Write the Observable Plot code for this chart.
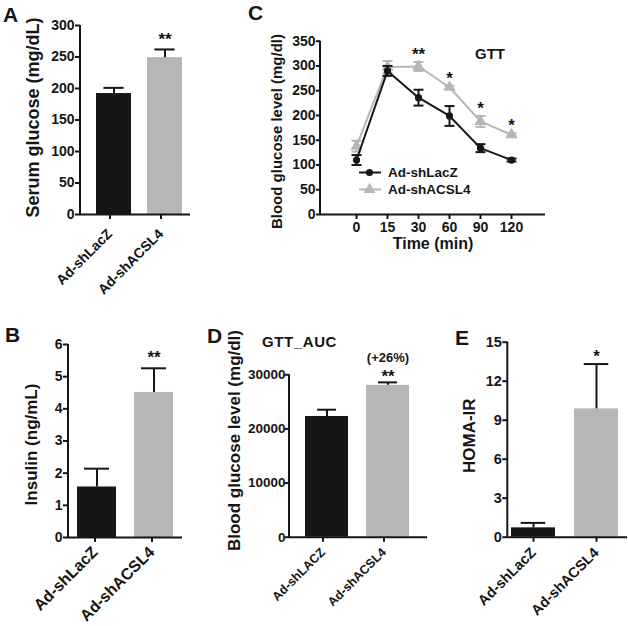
<!DOCTYPE html>
<html><head><meta charset="utf-8">
<script src="https://cdn.jsdelivr.net/npm/d3@7"></script>
<script src="https://cdn.jsdelivr.net/npm/@observablehq/plot@0.6"></script>
<style>
body{margin:0;background:#fff;}
#root{position:relative;width:628px;height:626px;overflow:hidden;background:#fff;}
#root svg{position:absolute;left:0;top:0;}
</style></head><body><div id="root"></div>
<script>
// ---------------- data ----------------
const groups = ["Ad-shLacZ", "Ad-shACSL4"];
const groupsD = ["Ad-shLACZ", "Ad-shACSL4"];
const serumMean = [192, 249];
const serumErr = [9, 13];
const serumSig = ["", "**"];
const insulinMean = [1.57, 4.51];
const insulinErr = [0.57, 0.75];
const insulinSig = ["", "**"];
const aucMean = [22300, 28050];
const aucErr = [1250, 550];
const aucSig = ["", "**"];
const aucNote = ["", "(+26%)"];
const homaMean = [0.72, 9.87];
const homaErr = [0.38, 3.45];
const homaSig = ["", "*"];
const times = [0, 15, 30, 60, 90, 120];
const laczGTT = [110, 290, 236, 199, 134, 110];
const laczGTTErr = [10, 10, 16, 20, 8, 3];
const acslGTT = [138, 298, 299, 257, 188, 161];
const acslGTTErr = [11, 12, 9, 3, 11, 3];
const gttSig = ["", "", "**", "*", "*", "*"];
const ticksA = [0, 50, 100, 150, 200, 250, 300];
const ticksB = [0, 1, 2, 3, 4, 5, 6];
const ticksC = [0, 50, 100, 150, 200, 250, 300, 350];
const ticksD = [0, 10000, 20000, 30000];
const ticksE = [0, 3, 6, 9, 12, 15];

// ---------------- style ----------------
const W = 628, H = 626;
const FONT = '"Liberation Sans", Arial, Helvetica, sans-serif';
const INK = "#151515", BLACK = "#161616", GRAY = "#b6b6b6";
const root = document.getElementById("root");
const STYLE = {background: "transparent", fontFamily: FONT, fontWeight: "bold", color: INK, overflow: "visible"};

function yLine(index, scales, values, d) {
  const l = document.createElementNS("http://www.w3.org/2000/svg", "line");
  l.setAttribute("x1", d.marginLeft); l.setAttribute("x2", d.marginLeft);
  l.setAttribute("y1", d.marginTop); l.setAttribute("y2", d.height - d.marginBottom + 1);
  l.setAttribute("stroke", INK); l.setAttribute("stroke-width", 2);
  return l;
}

function barPanel(o) {
  const rows = o.cats.map((c, i) => ({g: c, v: o.mean[i], e: o.err[i], s: o.sig[i], n: o.note ? o.note[i] : "", fill: i ? GRAY : BLACK}));
  const step = (o.xRange[1] - o.xRange[0]) / (2 - o.pi);
  const bw = step * (1 - o.pi);
  const inset = (bw - o.capW) / 2;
  const marks = [
    Plot.barY(rows, {x: "g", y: "v", fill: "fill"}),
    Plot.ruleX(rows, {x: "g", y1: "v", y2: d => d.v + d.e, stroke: INK, strokeWidth: 2}),
    Plot.tickY(rows, {x: "g", y: d => d.v + d.e, stroke: INK, strokeWidth: 2, insetLeft: inset, insetRight: inset}),
    Plot.text(rows, {x: "g", y: d => d.v + d.e, text: "s", dy: o.starDy, fontSize: 17, fontWeight: "bold"}),
    Plot.axisY(o.yTicks, {tickSize: o.yTickSize ?? 5, tickPadding: o.yTickPad ?? 1, fontSize: o.yFont, fontWeight: "bold", strokeWidth: 2, tickFormat: d => String(d), label: null}),
    Plot.axisX({tickRotate: -45, tickSize: 5, tickPadding: o.xPad, dx: o.xDx, fontSize: o.xFont, fontWeight: "bold", strokeWidth: 2, label: null}),
    Plot.ruleY([0], {stroke: INK, strokeWidth: 2}),
    yLine,
    Plot.text([o.ylabel], {text: d => d, frameAnchor: "left", textAnchor: "middle", rotate: -90, dx: o.ldx, dy: o.ldy, fontSize: o.lFont, fontWeight: "bold"})
  ];
  if (o.note) marks.push(Plot.text(rows, {x: "g", y: d => d.v + d.e, text: "n", dy: o.noteDy, fontSize: 13, fontWeight: "bold"}));
  return Plot.plot({
    width: W, height: H,
    marginLeft: o.left, marginRight: W - o.right, marginTop: o.top, marginBottom: H - o.bottom,
    style: STYLE,
    x: {type: "band", domain: o.cats, range: o.xRange, paddingInner: o.pi, paddingOuter: 0, label: null},
    y: {domain: o.yDomain, label: null},
    color: {type: "identity"},
    marks
  });
}

// Panel A
root.append(barPanel({cats: groups, mean: serumMean, err: serumErr, sig: serumSig, yDomain: [0, 300], yTicks: ticksA,
  left: 80, right: 190, top: 25, bottom: 214, xRange: [96, 182], pi: 0.32, capW: 20, starDy: -10,
  yFont: 14, xFont: 14, xPad: 12, xDx: -4, ylabel: "Serum glucose (mg/dL)", lFont: 18, ldx: -47, ldy: -2.5}));
// Panel B
root.append(barPanel({cats: groups, mean: insulinMean, err: insulinErr, sig: insulinSig, yDomain: [0, 6], yTicks: ticksB,
  left: 68, right: 182, top: 344, bottom: 537, xRange: [76.5, 172.5], pi: 0.316, capW: 25, starDy: -11,
  yFont: 14, xFont: 16, xPad: 7, xDx: -2, ylabel: "Insulin (ng/mL)", lFont: 17, ldx: -37, ldy: 3.5}));
// Panel D
root.append(barPanel({cats: groupsD, mean: aucMean, err: aucErr, sig: aucSig, note: aucNote, noteDy: -25, yDomain: [0, 30000], yTicks: ticksD,
  left: 289, right: 427, top: 374.3, bottom: 536.7, xRange: [304.5, 409.2], pi: 0.30, capW: 19, starDy: -6,
  yFont: 13.5, xFont: 12.5, xPad: 8, xDx: -4, yTickSize: 4, yTickPad: 0, ylabel: "Blood glucose level (mg/dl)", lFont: 17, ldx: -55, ldy: -15.5}));
// Panel E
root.append(barPanel({cats: groups, mean: homaMean, err: homaErr, sig: homaSig, yDomain: [0, 15], yTicks: ticksE,
  left: 507.3, right: 627, top: 341.7, bottom: 536.7, xRange: [511, 619], pi: 0.30, capW: 25, starDy: -7,
  yFont: 14.5, xFont: 14.5, xPad: 8, xDx: 0, ylabel: "HOMA-IR", lFont: 17, ldx: -38, ldy: -4}));

// Panel C
const lz = times.map((t, i) => ({t, v: laczGTT[i], e: laczGTTErr[i]}));
const ac = times.map((t, i) => ({t, v: acslGTT[i], e: acslGTTErr[i], s: gttSig[i]}));
const capSymbol = {draw(ctx) { ctx.moveTo(-5, 0); ctx.lineTo(5, 0); }};
function errMarks(rows, color) {
  return [
    Plot.ruleX(rows, {x: "t", y1: d => d.v - d.e, y2: d => d.v + d.e, stroke: color, strokeWidth: 2}),
    Plot.dot(rows, {x: "t", y: d => d.v + d.e, symbol: capSymbol, stroke: color, fill: "none", strokeWidth: 2}),
    Plot.dot(rows, {x: "t", y: d => d.v - d.e, symbol: capSymbol, stroke: color, fill: "none", strokeWidth: 2})
  ];
}
root.append(Plot.plot({
  width: W, height: H,
  marginLeft: 320, marginRight: W - 545, marginTop: 40.7, marginBottom: H - 214,
  style: STYLE,
  x: {type: "point", domain: times, range: [339.3, 526.7], label: null},
  y: {domain: [0, 350], label: null},
  marks: [
    Plot.line(ac, {x: "t", y: "v", stroke: GRAY, strokeWidth: 2}),
    ...errMarks(ac, GRAY),
    Plot.dot(ac, {x: "t", y: "v", symbol: "triangle", r: 4.5, fill: GRAY}),
    Plot.line(lz, {x: "t", y: "v", stroke: BLACK, strokeWidth: 2}),
    ...errMarks(lz, BLACK),
    Plot.dot(lz, {x: "t", y: "v", symbol: "circle", r: 3.6, fill: BLACK}),
    Plot.text(ac, {x: "t", y: d => d.v + d.e, text: "s", dy: -7.5, fontSize: 17, fontWeight: "bold"}),
    Plot.axisY(ticksC, {tickSize: 4, tickPadding: 1, fontSize: 14, fontWeight: "bold", strokeWidth: 2, label: null}),
    Plot.axisX({tickSize: 5, tickPadding: 3, fontSize: 14, fontWeight: "bold", strokeWidth: 2, label: null}),
    Plot.ruleY([0], {stroke: INK, strokeWidth: 2}),
    yLine,
    Plot.text(["Blood glucose level (mg/dl)"], {text: d => d, frameAnchor: "left", textAnchor: "middle", rotate: -90, dx: -43.3, dy: 3.7, fontSize: 15, fontWeight: "bold"}),
    Plot.text(["Time (min)"], {text: d => d, frameAnchor: "bottom", dy: 34, fontSize: 16, fontWeight: "bold"})
  ]
}));

// ---------------- overlay: panel letters, titles, legend ----------------
const ov = d3.create("svg").attr("width", W).attr("height", H)
  .style("font-family", FONT).style("font-weight", "bold").attr("fill", INK);
const letters = [["A", 3, 22], ["B", 5, 342], ["C", 248, 20], ["D", 207, 343], ["E", 455, 345]];
for (const [t, x, y] of letters) ov.append("text").attr("x", x).attr("y", y).attr("font-size", 21).text(t);
ov.append("text").attr("x", 475).attr("y", 58.5).attr("font-size", 15).text("GTT");
ov.append("text").attr("x", 262).attr("y", 347).attr("font-size", 15).attr("letter-spacing", 0.6).text("GTT_AUC");
// legend
const leg = ov.append("g");
leg.append("line").attr("x1", 359).attr("x2", 381).attr("y1", 172.5).attr("y2", 172.5).attr("stroke", BLACK).attr("stroke-width", 2);
leg.append("circle").attr("cx", 369.5).attr("cy", 172.5).attr("r", 3.6).attr("fill", BLACK);
leg.append("text").attr("x", 388).attr("y", 177).attr("font-size", 13.5).text(groups[0]);
leg.append("line").attr("x1", 359).attr("x2", 381).attr("y1", 189.5).attr("y2", 189.5).attr("stroke", GRAY).attr("stroke-width", 2);
leg.append("path").attr("d", d3.symbol(d3.symbolTriangle, 60)()).attr("transform", "translate(369.5,189.5)").attr("fill", GRAY);
leg.append("text").attr("x", 388).attr("y", 193.8).attr("font-size", 13.5).text(groups[1]);
root.append(ov.node());
</script></body></html>
